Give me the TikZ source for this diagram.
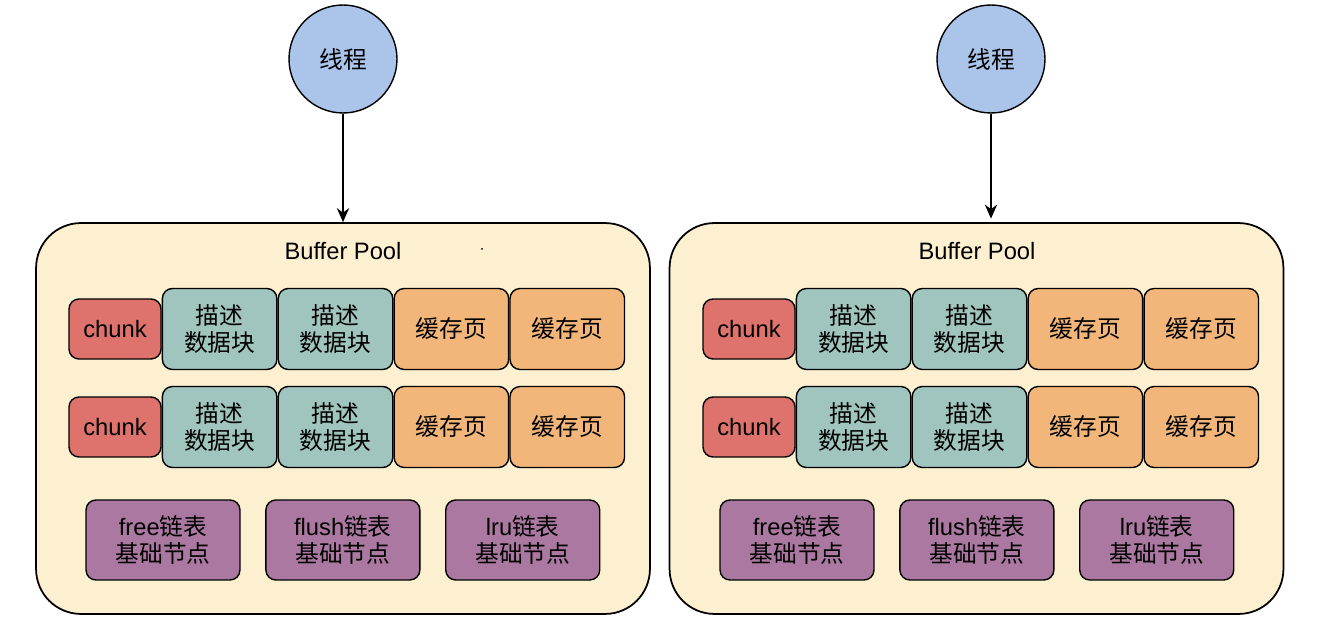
\documentclass[tikz,border=0pt]{standalone}
\usepackage{fontspec}
\setmainfont{Liberation Sans}
\newfontfamily\cjk{Noto Sans CJK SC}
\usetikzlibrary{arrows.meta,positioning}

\definecolor{threadblue}{HTML}{AAC4EA}
\definecolor{poolyellow}{HTML}{FCF0D0}
\definecolor{chunkred}{HTML}{DE726C}
\definecolor{descteal}{HTML}{A0C4BE}
\definecolor{pageorange}{HTML}{F2B67A}
\definecolor{listpurple}{HTML}{AA78A0}

\begin{document}
\begin{tikzpicture}[x=0.02cm,y=-0.02cm,node distance=0pt,
    >={Stealth[length=8pt,width=7pt]},font=\fontsize{13.5}{15.3}\selectfont]
  \tikzstyle{nodeThread}=[circle,draw=black,line width=0.8pt,fill=threadblue,minimum size=2.16cm,inner sep=0pt]
  \tikzstyle{nodePool}=[rectangle,draw=black,line width=1pt,fill=poolyellow,rounded corners=0.9cm,minimum width=12.28cm,minimum height=7.82cm]
  \tikzstyle{nodeChunk}=[rectangle,draw=black,line width=0.8pt,fill=chunkred,rounded corners=0.2cm,minimum width=1.84cm,minimum height=1.2cm,inner sep=0pt]
  \tikzstyle{nodeDesc}=[rectangle,draw=black,line width=0.8pt,fill=descteal,rounded corners=0.2cm,minimum width=2.29cm,minimum height=1.62cm,inner sep=0pt,align=center]
  \tikzstyle{nodePage}=[nodeDesc,fill=pageorange]
  \tikzstyle{nodeList}=[nodeDesc,fill=listpurple,minimum width=3.08cm,minimum height=1.6cm]

  \useasboundingbox (0,0) rectangle (1320,621);

  % left buffer pool
  \node[nodeThread] (lthread) at (343,59) {\cjk 线程};
  \node[nodePool]   (lpool)   at (343,418.5) {};
  \node             (ltitle)  at (343,251) {Buffer Pool};
  \fill (482,249) circle [radius=0.02cm];

  \node[nodeChunk] (lchunk1) at (115,329) {chunk};
  \node[nodeDesc]  (ldesc11)  [right=of lchunk1] {{\cjk 描述}\\{\cjk 数据块}};
  \node[nodeDesc]  (ldesc12)  [right=of ldesc11] {{\cjk 描述}\\{\cjk 数据块}};
  \node[nodePage]  (lpage11)  [right=of ldesc12] {\cjk 缓存页};
  \node[nodePage]  (lpage12)  [right=of lpage11] {\cjk 缓存页};

  \node[nodeChunk] (lchunk2) at (115,427) {chunk};
  \node[nodeDesc]  (ldesc21)  [right=of lchunk2] {{\cjk 描述}\\{\cjk 数据块}};
  \node[nodeDesc]  (ldesc22)  [right=of ldesc21] {{\cjk 描述}\\{\cjk 数据块}};
  \node[nodePage]  (lpage21)  [right=of ldesc22] {\cjk 缓存页};
  \node[nodePage]  (lpage22)  [right=of lpage21] {\cjk 缓存页};

  \node[nodeList] (lfree)  at (163,540) {free{\cjk 链表}\\{\cjk 基础节点}};
  \node[nodeList] (lflush) [right=0.49cm of lfree]  {flush{\cjk 链表}\\{\cjk 基础节点}};
  \node[nodeList] (llru)   [right=0.49cm of lflush] {lru{\cjk 链表}\\{\cjk 基础节点}};

  % right buffer pool
  \node[nodeThread] (rthread) at (991,59) {\cjk 线程};
  \node[nodePool]   (rpool)   at (976.5,418.5) {};
  \node             (rtitle)  at (977,251) {Buffer Pool};

  \node[nodeChunk] (rchunk1) at (749,329) {chunk};
  \node[nodeDesc]  (rdesc11)  [right=of rchunk1] {{\cjk 描述}\\{\cjk 数据块}};
  \node[nodeDesc]  (rdesc12)  [right=of rdesc11] {{\cjk 描述}\\{\cjk 数据块}};
  \node[nodePage]  (rpage11)  [right=of rdesc12] {\cjk 缓存页};
  \node[nodePage]  (rpage12)  [right=of rpage11] {\cjk 缓存页};

  \node[nodeChunk] (rchunk2) at (749,427) {chunk};
  \node[nodeDesc]  (rdesc21)  [right=of rchunk2] {{\cjk 描述}\\{\cjk 数据块}};
  \node[nodeDesc]  (rdesc22)  [right=of rdesc21] {{\cjk 描述}\\{\cjk 数据块}};
  \node[nodePage]  (rpage21)  [right=of rdesc22] {\cjk 缓存页};
  \node[nodePage]  (rpage22)  [right=of rpage21] {\cjk 缓存页};

  \node[nodeList] (rfree)  at (797,540) {free{\cjk 链表}\\{\cjk 基础节点}};
  \node[nodeList] (rflush) [right=0.49cm of rfree]  {flush{\cjk 链表}\\{\cjk 基础节点}};
  \node[nodeList] (rlru)   [right=0.49cm of rflush] {lru{\cjk 链表}\\{\cjk 基础节点}};

  % threads into the pools
  \draw[->,line width=0.8pt] (lthread) -- (lthread |- lpool.north);
  \draw[->,line width=0.8pt] (rthread) -- ([yshift=2pt]rthread |- rpool.north);
\end{tikzpicture}
\end{document}
